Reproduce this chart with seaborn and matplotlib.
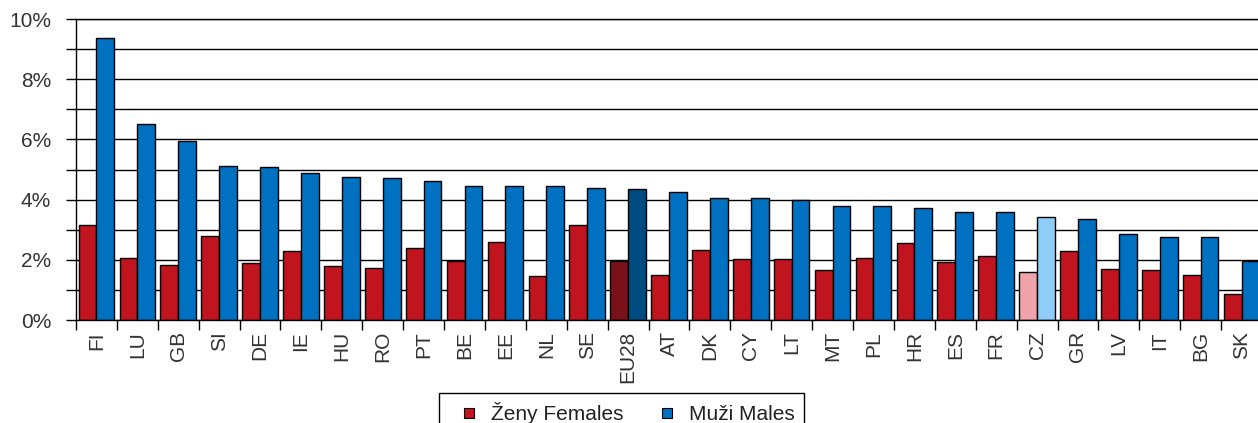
import matplotlib
matplotlib.use("Agg")
import matplotlib.pyplot as plt
import seaborn as sns
import pandas as pd
import numpy as np
from matplotlib.lines import Line2D
from matplotlib.ticker import MultipleLocator, FuncFormatter

# Data (in %)
zeme = ["FI", "LU", "GB", "SI", "DE", "IE", "HU", "RO", "PT", "BE", "EE", "NL", "SE", "EU28",
        "AT", "DK", "CY", "LT", "MT", "PL", "HR", "ES", "FR", "CZ", "GR", "LV", "IT", "BG", "SK"]
zeny = [3.16, 2.06, 1.82, 2.80, 1.89, 2.29, 1.81, 1.73, 2.39, 1.97, 2.60, 1.46, 3.15, 1.96,
        1.51, 2.33, 2.03, 2.03, 1.66, 2.07, 2.55, 1.93, 2.12, 1.60, 2.29, 1.71, 1.65, 1.50, 0.86]
muzi = [9.37, 6.51, 5.95, 5.12, 5.08, 4.88, 4.75, 4.72, 4.61, 4.45, 4.45, 4.45, 4.40, 4.36,
        4.26, 4.05, 4.05, 4.00, 3.80, 3.80, 3.73, 3.59, 3.59, 3.42, 3.36, 2.86, 2.75, 2.75, 1.96]

serie = ["Ženy Females", "Muži Males"]

# barvy
cervena = "#C0141E"
modra = "#0070C0"
eu_cervena = "#7A1018"
eu_modra = "#004C80"
cz_cervena = "#F0A3AA"
cz_modra = "#8DCDF7"

df = pd.DataFrame({
    "zeme": zeme * 2,
    "podil": zeny + muzi,
    "pohlavi": [serie[0]] * len(zeme) + [serie[1]] * len(zeme),
})

sns.set_style("white")
plt.rcParams['font.family'] = ['Liberation Sans', 'DejaVu Sans']

W, H = 1258, 423
fs = 15
fig = plt.figure(figsize=(W / 100, H / 100), dpi=100)
ax = fig.add_axes([76 / W, 1 - 320 / H, 1186 / W, 301 / H])

sns.barplot(data=df, x="zeme", y="podil", hue="pohlavi", hue_order=serie,
            palette=[cervena, modra], saturation=1, width=0.87,
            edgecolor="black", linewidth=1, legend=False, ax=ax)

# zvyraznit EU28 a CZ
i_eu = zeme.index("EU28")
i_cz = zeme.index("CZ")
ax.containers[0][i_eu].set_facecolor(eu_cervena)
ax.containers[1][i_eu].set_facecolor(eu_modra)
ax.containers[0][i_cz].set_facecolor(cz_cervena)
ax.containers[1][i_cz].set_facecolor(cz_modra)

# osa y
ax.set_ylim(0, 10)
ax.yaxis.set_major_locator(MultipleLocator(1))
ax.yaxis.set_major_formatter(FuncFormatter(lambda v, p: f"{int(round(v))}%" if int(round(v)) % 2 == 0 else ""))
ax.grid(axis="y", color="black", linewidth=1)
ax.set_axisbelow(True)
ax.tick_params(axis="y", direction="out", length=7, width=1, color="black",
               left=True, pad=11, labelsize=fs, labelcolor="#333333")

# osa x
ax.set_xlim(-0.5, len(zeme) - 0.5)
ax.set_xticks(range(len(zeme)))
ax.set_xticklabels(zeme, rotation=90)
ax.set_xticks(np.arange(-0.5, len(zeme), 1), minor=True)
ax.tick_params(axis="x", which="major", length=0, pad=8, labelsize=fs, labelcolor="#333333")
ax.tick_params(axis="x", which="minor", direction="out", length=7, width=1,
               color="black", bottom=True)
ax.set_xlabel("")
ax.set_ylabel("")

for s in ["left", "bottom", "top"]:
    ax.spines[s].set_visible(True)
    ax.spines[s].set_color("black")
    ax.spines[s].set_linewidth(1)
ax.spines["right"].set_visible(False)

# legenda
handles = [Line2D([], [], marker="s", ls="", markersize=7, markerfacecolor=c,
                  markeredgecolor="black", markeredgewidth=0.8)
           for c in [cervena, modra]]
leg = fig.legend(handles, serie, loc="upper left",
                 bbox_to_anchor=(439 / W, 1 - 393 / H), ncol=2,
                 frameon=True, fancybox=False, edgecolor="black", framealpha=1,
                 fontsize=fs, handlelength=2.0, handletextpad=0.05,
                 columnspacing=1.1, borderpad=0.45, borderaxespad=0,
                 labelcolor="#222222")
leg.get_frame().set_linewidth(1)

fig.savefig("out.png", dpi=100)
